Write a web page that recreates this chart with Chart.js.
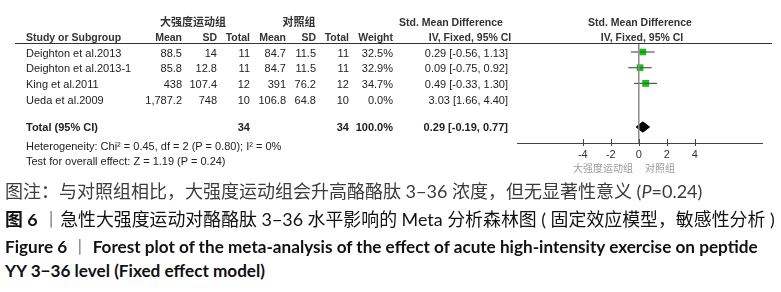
<!DOCTYPE html>
<html>
<head>
<meta charset="utf-8">
<script src="https://cdn.jsdelivr.net/npm/chart.js@4.4.1/dist/chart.umd.min.js"></script>
<style>
  body { margin:0; width:781px; height:292px; background:#fff; position:relative; overflow:hidden;
         font-family:"Liberation Sans", Arial, sans-serif; }
  #plot { position:absolute; left:0; top:0; }
  .t { position:absolute; font-size:11px; color:#222; white-space:nowrap; line-height:13px; }
  .h { font-weight:bold; font-size:10.5px; color:#333; }
  .cn { font-family:"Noto Sans CJK SC", sans-serif; }
  .cap { position:absolute; left:5px; white-space:nowrap; line-height:24px;
         font-family:Lato, "Noto Sans CJK SC", sans-serif; }
  .bar { color:#8a8a8a; font-weight:normal; }
</style>
</head>
<body>
<canvas id="plot" width="781" height="175"></canvas>
<div id="table"></div>

<div class="cap" id="cap1" style="top:179px;font-size:18px;color:#3c3c3c;">图注：与对照组相比，大强度运动组会升高酪酪肽 3−36 浓度，但无显著性意义 (<i>P</i>=0.24)</div>
<div class="cap" id="cap2" style="top:207px;font-size:17.9px;color:#111;"><b>图 6</b> <span class="bar">丨</span>急性大强度运动对酪酪肽 3−36 水平影响的 Meta 分析森林图 ( 固定效应模型，敏感性分析 )</div>
<div class="cap" id="cap3" style="top:235px;font-size:17.15px;color:#111;font-weight:bold;">Figure 6 <span class="bar">丨</span> Forest plot of the meta-analysis of the effect of acute high-intensity exercise on peptide</div>
<div class="cap" id="cap4" style="top:259px;font-size:17.15px;color:#111;font-weight:bold;">YY 3−36 level (Fixed effect model)</div>

<script>
// ── Data ──────────────────────────────────────
const studies   = ['Deighton et al.2013', 'Deighton et al.2013-1', 'King et al.2011', 'Ueda et al.2009'];
const expMean   = [88.5, 85.8, 438, 1787.2];
const expSD     = [14, 12.8, 107.4, 748];
const expN      = [11, 11, 12, 10];
const ctrlMean  = [84.7, 84.7, 391, 106.8];
const ctrlSD    = [11.5, 11.5, 76.2, 64.8];
const ctrlN     = [11, 11, 12, 10];
const weights   = [32.5, 32.9, 34.7, 0.0];
const smd       = [0.29, 0.09, 0.49, 3.03];
const ciLow     = [-0.56, -0.75, -0.33, 1.66];
const ciHigh    = [1.13, 0.92, 1.30, 4.40];
const totalSmd  = [0.29, -0.19, 0.77];   // estimate, low, high
const totalN    = [34, 34];
const xTicks    = [-4, -2, 0, 2, 4];
const groupNames = ['大强度运动组', '对照组'];

// ── Layout (px) ───────────────────────────────
const ROW0 = 52, ROW_STEP = 15.7, TOP_LINE = 43, AXIS_Y = 143;
const TOTAL_Y = 127, HET_Y = 146, TEST_Y = 161;
const rowY = i => ROW0 + i * ROW_STEP;
const toRow = px => (px - ROW0) / ROW_STEP;

// ── Table text ────────────────────────────────
const table = document.getElementById('table');
function put(text, x, y, align, cls, extra) {
  const d = document.createElement('div');
  d.className = 't ' + (cls || '');
  d.innerHTML = text;
  d.style.left = x + 'px';
  d.style.top = (y - 6.5) + 'px';
  if (align === 'r') d.style.transform = 'translateX(-100%)';
  if (align === 'c') d.style.transform = 'translateX(-50%)';
  if (extra) Object.assign(d.style, extra);
  table.appendChild(d);
}
const fmt = v => v.toLocaleString('en-US', { maximumFractionDigits: 1 });
const ci  = (e, l, h) => `${e.toFixed(2)} [${l.toFixed(2)}, ${h.toFixed(2)}]`;

const COLS = { mean1: 182, sd1: 217, n1: 250, mean2: 286, sd2: 316, n2: 349, w: 393, ci: 508 };

put(groupNames[0], 193, 21, 'c', 'h cn', { fontSize: '11px' });
put(groupNames[1], 299, 21, 'c', 'h cn', { fontSize: '11px' });
put('Std. Mean Difference', 451, 22, 'c', 'h');
put('Std. Mean Difference', 640, 22, 'c', 'h');
put('Study or Subgroup', 26, 37, 'l', 'h');
put('Mean', COLS.mean1, 37, 'r', 'h');
put('SD', COLS.sd1, 37, 'r', 'h');
put('Total', COLS.n1, 37, 'r', 'h');
put('Mean', COLS.mean2, 37, 'r', 'h');
put('SD', COLS.sd2, 37, 'r', 'h');
put('Total', COLS.n2, 37, 'r', 'h');
put('Weight', COLS.w, 37, 'r', 'h');
put('IV, Fixed, 95% CI', 470, 37, 'c', 'h');
put('IV, Fixed, 95% CI', 642, 37, 'c', 'h');

const rule = document.createElement('div');
Object.assign(rule.style, { position: 'absolute', left: '15px', width: '757px', top: TOP_LINE + 'px',
  height: '1px', background: '#333' });
table.appendChild(rule);

studies.forEach((s, i) => {
  const y = rowY(i) + 1;
  put(s, 26, y, 'l');
  put(fmt(expMean[i]), COLS.mean1, y, 'r');
  put(fmt(expSD[i]), COLS.sd1, y, 'r');
  put(expN[i], COLS.n1, y, 'r');
  put(fmt(ctrlMean[i]), COLS.mean2, y, 'r');
  put(fmt(ctrlSD[i]), COLS.sd2, y, 'r');
  put(ctrlN[i], COLS.n2, y, 'r');
  put(weights[i].toFixed(1) + '%', COLS.w, y, 'r');
  put(ci(smd[i], ciLow[i], ciHigh[i]), COLS.ci, y, 'r');
});

put('<b>Total (95% CI)</b>', 26, TOTAL_Y, 'l');
put('<b>' + totalN[0] + '</b>', COLS.n1, TOTAL_Y, 'r');
put('<b>' + totalN[1] + '</b>', COLS.n2, TOTAL_Y, 'r');
put('<b>' + weights.reduce((a, b) => a + b, 0).toFixed(1).replace('100.1', '100.0') + '%</b>', COLS.w, TOTAL_Y, 'r');
put('<b>' + ci(totalSmd[0], totalSmd[1], totalSmd[2]) + '</b>', COLS.ci, TOTAL_Y, 'r');
put('Heterogeneity: Chi² = 0.45, df = 2 (P = 0.80); I² = 0%', 26, HET_Y, 'l');
put('Test for overall effect: Z = 1.19 (P = 0.24)', 26, TEST_Y, 'l');

put(groupNames[0], 633, 167, 'r', 'cn', { fontSize: '10px', color: '#9a9a9a' });
put(groupNames[1], 645, 167, 'l', 'cn', { fontSize: '10px', color: '#9a9a9a' });

// ── Forest plot ───────────────────────────────
const yMin = toRow(TOP_LINE), yMax = toRow(AXIS_Y);
const totalRow = toRow(TOTAL_Y);
const DIAMOND_H = 5.2 / ROW_STEP;

const datasets = [{
  data: [{ x: 0, y: yMin }, { x: 0, y: yMax }],
  showLine: true, borderColor: '#8a8a8a', borderWidth: 1.5, pointRadius: 0
}];
studies.forEach((s, i) => {
  if (weights[i] <= 0) return;
  datasets.push({
    data: [{ x: ciLow[i], y: i }, { x: ciHigh[i], y: i }],
    showLine: true, borderColor: '#555', borderWidth: 1.2, pointRadius: 0
  });
});
const shown = studies.map((s, i) => i).filter(i => weights[i] > 0);
datasets.push({
  data: shown.map(i => ({ x: smd[i], y: i })),
  pointStyle: 'rect',
  pointRadius: shown.map(i => 4.7 * Math.sqrt(weights[i] / 32.5)),
  backgroundColor: '#12c412', borderWidth: 0
});
datasets.push({
  data: [
    { x: totalSmd[1], y: totalRow }, { x: totalSmd[0], y: totalRow - DIAMOND_H },
    { x: totalSmd[2], y: totalRow }, { x: totalSmd[0], y: totalRow + DIAMOND_H },
    { x: totalSmd[1], y: totalRow }
  ],
  showLine: true, fill: 'shape', backgroundColor: '#000', borderColor: '#000',
  borderWidth: 1, pointRadius: 0, tension: 0
});

const crossTicks = {
  id: 'crossTicks',
  afterDraw(chart) {
    const sx = chart.scales.x, ctx = chart.ctx, b = chart.chartArea.bottom;
    ctx.save();
    ctx.strokeStyle = '#444';
    ctx.lineWidth = 1;
    sx.ticks.forEach(t => {
      const px = Math.round(sx.getPixelForValue(t.value)) + 0.5;
      ctx.beginPath();
      ctx.moveTo(px, b - 4);
      ctx.lineTo(px, b + 3);
      ctx.stroke();
    });
    ctx.restore();
  }
};

new Chart(document.getElementById('plot'), {
  type: 'scatter',
  data: { datasets },
  options: {
    responsive: false,
    animation: false,
    layout: { padding: { left: 517, right: 19, top: 43, bottom: 0 } },
    plugins: { legend: { display: false }, tooltip: { enabled: false } },
    scales: {
      x: {
        type: 'linear', min: -8.7, max: 8.8,
        afterBuildTicks: axis => { axis.ticks = xTicks.map(v => ({ value: v })); },
        afterFit: axis => { axis.height = 32; },
        grid: { display: false, drawTicks: false },
        border: { display: true, color: '#444', width: 1 },
        ticks: { color: '#333', padding: 5, font: { family: 'Liberation Sans', size: 11 },
                 callback: v => String(v) }
      },
      y: { type: 'linear', min: yMin, max: yMax, reverse: true, display: false }
    }
  },
  plugins: [crossTicks]
});
</script>
</body>
</html>
